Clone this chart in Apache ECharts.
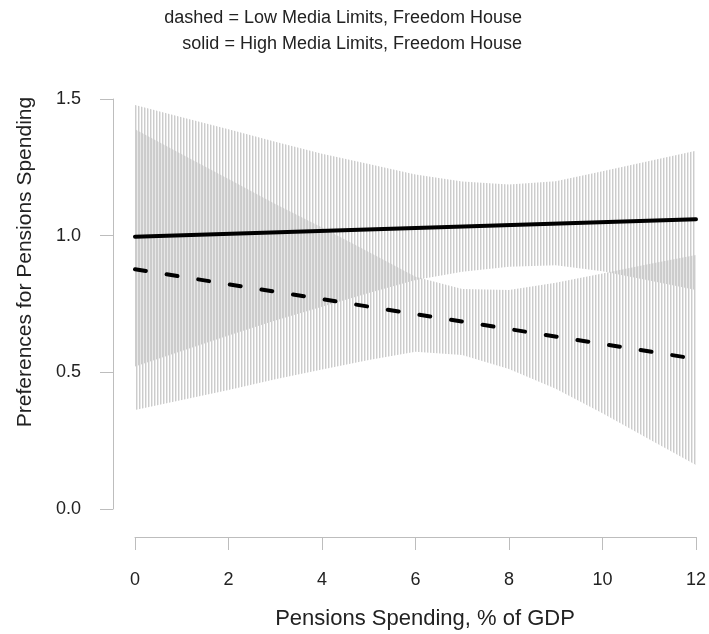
<!DOCTYPE html>
<html>
<head>
<meta charset="utf-8">
<script src="https://cdn.jsdelivr.net/npm/echarts@6/dist/echarts.min.js"></script>
<style>
html,body{margin:0;padding:0;background:#fff;}
#chart{width:709px;height:634px;}
</style>
</head>
<body>
<div id="chart"></div>
<script>
// ---- data ----
const xTicks = [0, 2, 4, 6, 8, 10, 12];
const yTicks = [0, 0.5, 1.0, 1.5];

const bandX     = [0, 1, 2, 3, 4, 5, 6, 7, 8, 9, 10, 11, 12];
// High Media Limits (solid) confidence band
const highUpper = [1.478, 1.433, 1.389, 1.344, 1.300, 1.262, 1.224, 1.198, 1.187, 1.199, 1.236, 1.273, 1.311];
const highLower = [0.521, 0.578, 0.635, 0.690, 0.740, 0.790, 0.838, 0.868, 0.886, 0.892, 0.870, 0.836, 0.801];
// Low Media Limits (dashed) confidence band
const lowUpper  = [1.389, 1.298, 1.207, 1.116, 1.030, 0.940, 0.850, 0.805, 0.801, 0.828, 0.862, 0.896, 0.929];
const lowLower  = [0.362, 0.399, 0.435, 0.475, 0.510, 0.545, 0.575, 0.563, 0.512, 0.440, 0.350, 0.255, 0.161];

// fitted lines
const lineX     = [0, 12];
const highLine  = [0.996, 1.060];
const lowLine   = [0.877, 0.549];

const titleLines = ['dashed = Low Media Limits, Freedom House',
                    'solid = High Media Limits, Freedom House'];
const xTitle = 'Pensions Spending, % of GDP';
const yTitle = 'Preferences for Pensions Spending';

// ---- hatch patterns (vertical lines) ----
function makeHatch(offset) {
  const c = document.createElement('canvas');
  c.width = 3; c.height = 4;
  const ctx = c.getContext('2d');
  ctx.fillStyle = 'rgba(204,204,204,1)';
  ctx.fillRect(offset % 3, 0, 1, 4);
  ctx.fillStyle = 'rgba(204,204,204,0.45)';
  ctx.fillRect((offset + 1) % 3, 0, 1, 4);
  return {image: c, repeat: 'repeat'};
}
const hatchA = makeHatch(0);
const hatchB = makeHatch(1);

function bandSeries(name, upper, lower, fill) {
  return {
    type: 'custom',
    name: name,
    silent: true,
    z: 1,
    data: bandX.map((x, i) => [x, lower[i], upper[i]]),
    encode: {x: 0, y: [1, 2]},
    renderItem: function (params, api) {
      if (params.dataIndex !== 0) return null;
      const pts = [];
      for (let i = 0; i < bandX.length; i++) pts.push(api.coord([bandX[i], upper[i]]));
      for (let i = bandX.length - 1; i >= 0; i--) pts.push(api.coord([bandX[i], lower[i]]));
      return {type: 'polygon', shape: {points: pts}, style: {fill: fill, stroke: null}};
    }
  };
}

const FONT = "'Liberation Sans', Arial, Helvetica, sans-serif";
const axisGray = '#bdbdbd';

const chart = echarts.init(document.getElementById('chart'), null, {renderer: 'canvas'});
chart.setOption({
  animation: false,
  backgroundColor: '#ffffff',
  grid: {left: 135, right: 11, top: 99, bottom: 125, containLabel: false},
  xAxis: {
    type: 'value', min: xTicks[0], max: xTicks[xTicks.length - 1], interval: 2,
    position: 'bottom', offset: 28,
    axisLine: {show: true, onZero: false, lineStyle: {color: axisGray, width: 1}},
    axisTick: {show: true, length: 13, lineStyle: {color: axisGray, width: 1}},
    axisLabel: {margin: 34, fontSize: 18, color: '#222', fontFamily: FONT,
                formatter: v => String(v)},
    splitLine: {show: false}
  },
  yAxis: {
    type: 'value', min: yTicks[0], max: yTicks[yTicks.length - 1], interval: 0.5,
    position: 'left', offset: 22,
    axisLine: {show: true, onZero: false, lineStyle: {color: axisGray, width: 1}},
    axisTick: {show: true, length: 13, lineStyle: {color: axisGray, width: 1}},
    axisLabel: {margin: 32, fontSize: 18, color: '#222', fontFamily: FONT,
                formatter: v => v.toFixed(1)},
    splitLine: {show: false}
  },
  graphic: [
    {type: 'text', x: 522, y: 18,
     style: {text: titleLines[0], font: '18px ' + FONT, fill: '#222', textAlign: 'right', textVerticalAlign: 'middle'}},
    {type: 'text', x: 522, y: 44,
     style: {text: titleLines[1], font: '18px ' + FONT, fill: '#222', textAlign: 'right', textVerticalAlign: 'middle'}},
    {type: 'text', x: 425, y: 619,
     style: {text: xTitle, font: '22px ' + FONT, fill: '#222', textAlign: 'center', textVerticalAlign: 'middle'}},
    {type: 'text', x: 25, y: 262, rotation: Math.PI / 2,
     style: {text: yTitle, font: '21px ' + FONT, fill: '#222', textAlign: 'center', textVerticalAlign: 'middle'}}
  ],
  series: [
    bandSeries('High band', highUpper, highLower, hatchA),
    bandSeries('Low band', lowUpper, lowLower, hatchB),
    {
      type: 'line', name: 'High Media Limits', z: 3, symbol: 'none', silent: true,
      data: lineX.map((x, i) => [x, highLine[i]]),
      lineStyle: {color: '#000', width: 4, cap: 'round'}
    },
    {
      type: 'line', name: 'Low Media Limits', z: 3, symbol: 'none', silent: true,
      data: lineX.map((x, i) => [x, lowLine[i]]),
      lineStyle: {color: '#000', width: 4, type: [11, 21], cap: 'round'}
    }
  ]
});
</script>
</body>
</html>
